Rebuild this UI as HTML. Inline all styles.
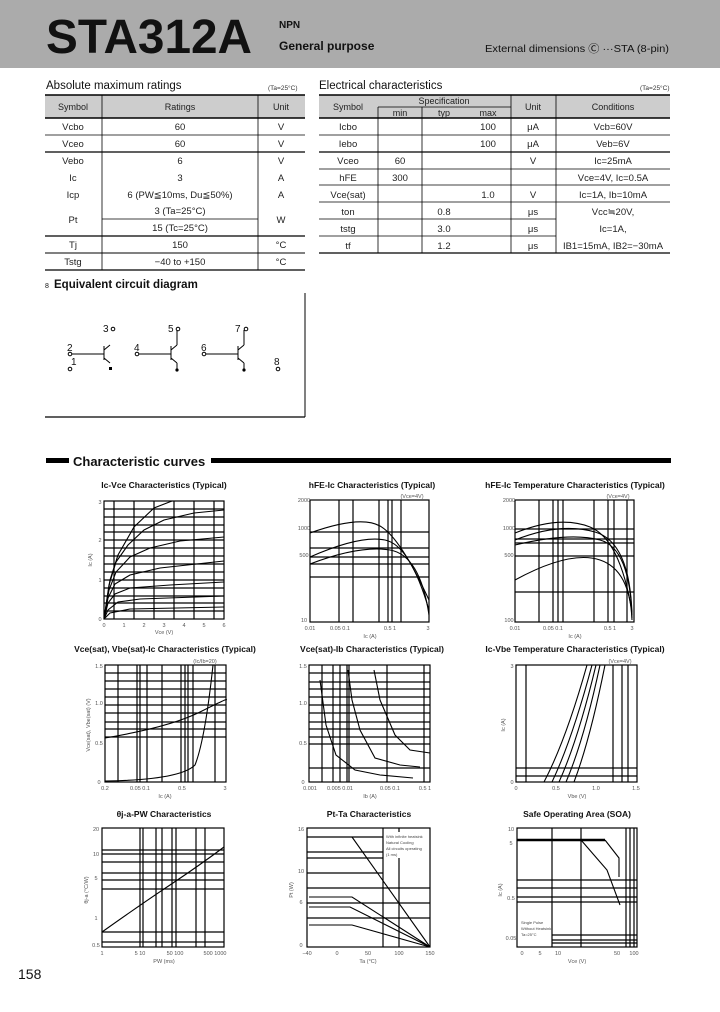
<!DOCTYPE html>
<html><head><meta charset="utf-8"><style>
html,body{margin:0;padding:0;background:#fff}
svg{display:block}
text{font-family:"Liberation Sans",Arial,sans-serif}
.t{font-size:9.5px;fill:#222}
.tk{font-size:5.5px;fill:#555}
.ct{font-size:8.5px;font-weight:bold;fill:#111}
.g{stroke:#000;stroke-width:1.2;fill:none}
.c{stroke:#000;stroke-width:1.1;fill:none}
</style></head><body>
<svg width="720" height="1012" viewBox="0 0 720 1012" xmlns="http://www.w3.org/2000/svg">
<rect x="0" y="0" width="720" height="68" fill="#ababab"/>
<text x="46" y="53" font-size="48" font-weight="bold" textLength="206" lengthAdjust="spacingAndGlyphs" fill="#111">STA312A</text>
<text x="279" y="28" font-size="10" font-weight="bold" fill="#111">NPN</text>
<text x="279" y="50" font-size="12" font-weight="bold" fill="#111">General purpose</text>
<text x="485" y="52" font-size="10.5" fill="#111" textLength="184" lengthAdjust="spacingAndGlyphs">External dimensions Ⓒ ···STA (8-pin)</text>

<!-- Left table -->
<text x="46" y="89" font-size="11.5" fill="#111">Absolute maximum ratings</text>
<text x="268" y="90" font-size="6.5" fill="#333">(Ta=25°C)</text>
<rect x="45" y="95" width="260" height="23" fill="#cdcdcd"/>
<g stroke="#000" fill="none">
<line x1="45" y1="95" x2="305" y2="95" stroke-width="1.5"/>
<line x1="45" y1="118" x2="305" y2="118" stroke-width="1.5"/>
<line x1="45" y1="135" x2="305" y2="135" stroke-width="0.8"/>
<line x1="45" y1="152" x2="305" y2="152" stroke-width="1.2"/>
<line x1="102" y1="219" x2="258" y2="219" stroke-width="0.8"/>
<line x1="45" y1="236" x2="305" y2="236" stroke-width="1.2"/>
<line x1="45" y1="253" x2="305" y2="253" stroke-width="1"/>
<line x1="45" y1="270" x2="305" y2="270" stroke-width="1.2"/>
<line x1="102" y1="95" x2="102" y2="270" stroke-width="0.8"/>
<line x1="258" y1="95" x2="258" y2="270" stroke-width="0.8"/>
</g>
<g class="t" text-anchor="middle">
<text x="73" y="110" font-size="9">Symbol</text><text x="180" y="110" font-size="9">Ratings</text><text x="281" y="110" font-size="9">Unit</text>
<text x="73" y="130">Vcbo</text><text x="180" y="130">60</text><text x="281" y="130">V</text>
<text x="73" y="147">Vceo</text><text x="180" y="147">60</text><text x="281" y="147">V</text>
<text x="73" y="164">Vebo</text><text x="180" y="164">6</text><text x="281" y="164">V</text>
<text x="73" y="181">Ic</text><text x="180" y="181">3</text><text x="281" y="181">A</text>
<text x="73" y="198">Icp</text><text x="180" y="198">6 (PW≦10ms, Du≦50%)</text><text x="281" y="198">A</text>
<text x="73" y="223">Pt</text><text x="180" y="214">3 (Ta=25°C)</text><text x="180" y="231">15 (Tc=25°C)</text><text x="281" y="223">W</text>
<text x="73" y="248">Tj</text><text x="180" y="248">150</text><text x="281" y="248">°C</text>
<text x="73" y="265">Tstg</text><text x="180" y="265">−40 to +150</text><text x="281" y="265">°C</text>
</g>

<!-- Right table -->
<text x="319" y="89" font-size="11.5" fill="#111">Electrical characteristics</text>
<text x="640" y="90" font-size="6.5" fill="#333">(Ta=25°C)</text>
<rect x="319" y="95" width="351" height="23" fill="#cdcdcd"/>
<g stroke="#000" fill="none">
<line x1="319" y1="95" x2="670" y2="95" stroke-width="1.5"/>
<line x1="319" y1="118" x2="670" y2="118" stroke-width="1.5"/>
<line x1="378" y1="107" x2="511" y2="107" stroke-width="0.8"/>
<line x1="319" y1="135" x2="670" y2="135" stroke-width="0.8"/>
<line x1="319" y1="152" x2="670" y2="152" stroke-width="1.2"/>
<line x1="319" y1="169" x2="670" y2="169" stroke-width="0.8"/>
<line x1="319" y1="185" x2="670" y2="185" stroke-width="0.8"/>
<line x1="319" y1="202" x2="670" y2="202" stroke-width="0.8"/>
<line x1="319" y1="219" x2="556" y2="219" stroke-width="0.8"/>
<line x1="319" y1="236" x2="556" y2="236" stroke-width="0.8"/>
<line x1="319" y1="253" x2="670" y2="253" stroke-width="1.2"/>
<line x1="378" y1="107" x2="378" y2="253" stroke-width="0.8"/>
<line x1="422" y1="107" x2="422" y2="253" stroke-width="0.8"/>
<line x1="511" y1="95" x2="511" y2="253" stroke-width="0.8"/>
<line x1="556" y1="95" x2="556" y2="253" stroke-width="0.8"/>
</g>
<g class="t" text-anchor="middle">
<text x="348" y="110" font-size="9">Symbol</text><text x="444" y="104" font-size="9">Specification</text>
<text x="400" y="116" font-size="9">min</text><text x="444" y="116" font-size="9">typ</text><text x="488" y="116" font-size="9">max</text>
<text x="533" y="110" font-size="9">Unit</text><text x="613" y="110" font-size="9">Conditions</text>
<text x="348" y="130">Icbo</text><text x="488" y="130">100</text><text x="533" y="130">μA</text><text x="613" y="130">Vcb=60V</text>
<text x="348" y="147">Iebo</text><text x="488" y="147">100</text><text x="533" y="147">μA</text><text x="613" y="147">Veb=6V</text>
<text x="348" y="164">Vceo</text><text x="400" y="164">60</text><text x="533" y="164">V</text><text x="613" y="164">Ic=25mA</text>
<text x="348" y="181">hFE</text><text x="400" y="181">300</text><text x="613" y="181">Vce=4V, Ic=0.5A</text>
<text x="348" y="198">Vce(sat)</text><text x="488" y="198">1.0</text><text x="533" y="198">V</text><text x="613" y="198">Ic=1A, Ib=10mA</text>
<text x="348" y="215">ton</text><text x="444" y="215">0.8</text><text x="533" y="215">μs</text><text x="613" y="215">Vcc≒20V,</text>
<text x="348" y="232">tstg</text><text x="444" y="232">3.0</text><text x="533" y="232">μs</text><text x="613" y="232">Ic=1A,</text>
<text x="348" y="249">tf</text><text x="444" y="249">1.2</text><text x="533" y="249">μs</text><text x="613" y="249">IB1=15mA, IB2=−30mA</text>
</g>

<!-- Equivalent circuit -->
<text x="45" y="288" font-size="7" fill="#111">8</text>
<text x="54" y="288" font-size="11.5" font-weight="bold" fill="#111">Equivalent circuit diagram</text>
<g stroke="#000" fill="none" stroke-width="1">
<line x1="305" y1="293" x2="305" y2="417"/>
<line x1="45" y1="417" x2="305" y2="417" stroke-width="1.3"/>
<line x1="72" y1="354" x2="104" y2="354"/><line x1="104" y1="346" x2="104" y2="360"/>
<line x1="104" y1="350" x2="110" y2="345"/><line x1="104" y1="358" x2="110" y2="363"/>
<line x1="139" y1="354" x2="171" y2="354"/><line x1="171" y1="346" x2="171" y2="360"/>
<line x1="171" y1="350" x2="177" y2="345"/><line x1="177" y1="345" x2="177" y2="330"/>
<line x1="171" y1="358" x2="177" y2="363"/><line x1="177" y1="363" x2="177" y2="370"/>
<line x1="206" y1="354" x2="238" y2="354"/><line x1="238" y1="346" x2="238" y2="360"/>
<line x1="238" y1="350" x2="244" y2="345"/><line x1="244" y1="345" x2="244" y2="330"/>
<line x1="238" y1="358" x2="244" y2="363"/><line x1="244" y1="363" x2="244" y2="370"/>
<circle cx="70" cy="354" r="1.8"/><circle cx="70" cy="369" r="1.8"/><circle cx="113" cy="329" r="1.8"/>
<circle cx="137" cy="354" r="1.8"/><circle cx="178" cy="329" r="1.8"/><circle cx="204" cy="354" r="1.8"/>
<circle cx="246" cy="329" r="1.8"/><circle cx="278" cy="369" r="1.8"/>
</g>
<rect x="109" y="367" width="3" height="3"/><circle cx="177" cy="370" r="1.6"/><circle cx="244" cy="370" r="1.6"/>
<g font-size="10" fill="#111"><text x="67" y="351">2</text><text x="71" y="365">1</text><text x="103" y="332">3</text>
<text x="134" y="351">4</text><text x="168" y="332">5</text><text x="201" y="351">6</text><text x="235" y="332">7</text><text x="274" y="365">8</text></g>

<!-- Characteristic curves header -->
<rect x="46" y="458" width="23" height="5" fill="#000"/>
<rect x="211" y="458" width="460" height="5" fill="#000"/>
<text x="73" y="466" font-size="13" font-weight="bold" fill="#111">Characteristic curves</text>

<!-- Titles -->
<g class="ct" text-anchor="middle">
<text x="164" y="488">Ic-Vce Characteristics (Typical)</text>
<text x="372" y="488">hFE-Ic Characteristics (Typical)</text>
<text x="575" y="488">hFE-Ic Temperature Characteristics (Typical)</text>
<text x="165" y="652">Vce(sat), Vbe(sat)-Ic Characteristics (Typical)</text>
<text x="372" y="652">Vce(sat)-Ib Characteristics (Typical)</text>
<text x="575" y="652">Ic-Vbe Temperature Characteristics (Typical)</text>
<text x="164" y="817">θj-a-PW Characteristics</text>
<text x="369" y="817">Pt-Ta Characteristics</text>
<text x="577" y="817">Safe Operating Area (SOA)</text>
</g>

<!-- Chart 1 -->
<g class="g">
<rect x="104" y="501" width="120" height="118"/>
<path d="M114 501V619M134 501V619M154 501V619M174 501V619M194 501V619M214 501V619"/>
<path d="M104 509H224M104 517H224M104 525H224M104 532H224M104 540H224M104 548H224M104 556H224M104 564H224M104 572H224M104 580H224M104 588H224M104 596H224M104 603H224M104 611H224"/>
</g>
<g class="c">
<path d="M104 619L110 580L118 555L134 527L154 508L172 501"/>
<path d="M104 619L109 585L116 562L128 545L144 530L164 520L194 513L224 510"/>
<path d="M104 619L109 590L116 572L130 557L150 548L180 541L224 537"/>
<path d="M104 619L108 598L115 584L130 575L160 568L224 561"/>
<path d="M104 619L108 603L115 594L130 588L170 585L224 582"/>
<path d="M104 619L108 610L118 602L140 599L224 596"/>
<path d="M104 619L110 613L130 609L224 607"/>
</g>
<g class="tk" text-anchor="middle"><text x="104" y="627">0</text><text x="124" y="627">1</text><text x="144" y="627">2</text><text x="164" y="627">3</text><text x="184" y="627">4</text><text x="204" y="627">5</text><text x="224" y="627">6</text><text x="164" y="634">Vce (V)</text>
<text x="100" y="621">0</text><text x="100" y="582">1</text><text x="100" y="542">2</text><text x="100" y="504">3</text><text x="92" y="560" transform="rotate(-90 92 560)">Ic (A)</text></g>

<!-- Chart 2 -->
<g class="g">
<rect x="310" y="500" width="119" height="122"/>
<path d="M339 500V622M353 500V622M379 500V622M388 500V622M392 500V622M401 500V622"/>
<path d="M310 532H429M310 548H429M310 557H429M310 564H429M310 577H429"/>
</g>
<g class="c">
<path d="M310 533Q360 515 380 526T429 600"/>
<path d="M310 557Q360 535 385 540T429 610"/>
<path d="M310 564Q360 545 390 550T429 615"/>
</g>
<g class="tk" text-anchor="middle"><text x="310" y="630">0.01</text><text x="340" y="630">0.05 0.1</text><text x="390" y="630">0.5 1</text><text x="428" y="630">3</text><text x="370" y="638">Ic (A)</text><text x="412" y="498">(Vce=4V)</text>
<text x="304" y="502">2000</text><text x="304" y="530">1000</text><text x="304" y="557">500</text><text x="304" y="622">10</text></g>

<!-- Chart 3 -->
<g class="g">
<rect x="515" y="500" width="119" height="122"/>
<path d="M539 500V622M553 500V622M558 500V622M563 500V622M594 500V622M608 500V622M614 500V622M627 500V622"/>
<path d="M515 529H634M515 539H634M515 543H634M515 556H634M515 592H634"/>
</g>
<g class="c">
<path d="M515 533Q560 515 590 527T632 612"/>
<path d="M515 540Q560 522 595 532T632 615"/>
<path d="M515 545Q570 532 600 540T632 618"/>
<path d="M515 580Q570 550 600 560T632 620"/>
</g>
<g class="tk" text-anchor="middle"><text x="515" y="630">0.01</text><text x="553" y="630">0.05 0.1</text><text x="610" y="630">0.5 1</text><text x="632" y="630">3</text><text x="575" y="638">Ic (A)</text><text x="618" y="498">(Vce=4V)</text>
<text x="509" y="502">2000</text><text x="509" y="530">1000</text><text x="509" y="557">500</text><text x="509" y="622">100</text></g>

<!-- Chart 4 -->
<g class="g">
<rect x="105" y="665" width="121" height="117"/>
<path d="M118 665V782M137 665V782M140 665V782M147 665V782M162 665V782M181 665V782M185 665V782M188 665V782M193 665V782M215 665V782"/>
<path d="M105 673H226M105 681H226M105 689H226M105 697H226M105 705H226M105 713H226M105 722H226M105 729H226M105 737H226"/>
</g>
<g class="c">
<path d="M105 738Q170 727 200 712T226 700"/>
<path d="M105 781Q180 780 195 765Q205 740 213 665"/>
</g>
<g class="tk" text-anchor="middle"><text x="105" y="790">0.2</text><text x="140" y="790">0.05 0.1</text><text x="182" y="790">0.5</text><text x="225" y="790">3</text><text x="165" y="798">Ic (A)</text><text x="205" y="663">(Ic/Ib=20)</text>
<text x="99" y="668">1.5</text><text x="99" y="705">1.0</text><text x="99" y="745">0.5</text><text x="99" y="784">0</text><text x="90" y="725" transform="rotate(-90 90 725)">Vce(sat), Vbe(sat) (V)</text></g>

<!-- Chart 5 -->
<g class="g">
<rect x="309" y="665" width="121" height="117"/>
<path d="M322 665V782M333 665V782M340 665V782M347 665V782M349 665V782M387 665V782M424 665V782"/>
<path d="M309 673H430M309 682H430M309 689H430M309 697H430M309 705H430M309 713H430M309 722H430M309 729H430M309 737H430M309 744H430M309 768H430"/>
</g>
<g class="c">
<path d="M320 680L326 725L336 755L355 770L380 775L413 778"/>
<path d="M348 670L352 700L360 730L375 758L400 765L420 767"/>
<path d="M374 670L380 700L395 735L410 750L430 753"/>
</g>
<g class="tk" text-anchor="middle"><text x="310" y="790">0.001</text><text x="340" y="790">0.005 0.01</text><text x="390" y="790">0.05 0.1</text><text x="425" y="790">0.5 1</text><text x="370" y="798">Ib (A)</text>
<text x="303" y="668">1.5</text><text x="303" y="705">1.0</text><text x="303" y="745">0.5</text><text x="303" y="784">0</text></g>

<!-- Chart 6 -->
<g class="g">
<rect x="516" y="665" width="121" height="117"/>
<path d="M526 665V782M613 665V782M622 665V782M628 665V782"/>
<path d="M516 768H637M516 776H637"/>
</g>
<g class="c">
<path d="M544 782Q566 740 587 665"/><path d="M552 782Q572 740 592 665"/><path d="M559 782Q578 740 596 665"/><path d="M566 782Q584 740 600 665"/><path d="M574 782Q590 740 605 665"/>
</g>
<g class="tk" text-anchor="middle"><text x="516" y="790">0</text><text x="556" y="790">0.5</text><text x="596" y="790">1.0</text><text x="636" y="790">1.5</text><text x="577" y="798">Vbe (V)</text><text x="620" y="663">(Vce=4V)</text>
<text x="512" y="668">3</text><text x="512" y="784">0</text><text x="505" y="725" transform="rotate(-90 505 725)">Ic (A)</text></g>

<!-- Chart 7 -->
<g class="g">
<rect x="102" y="828" width="122" height="119"/>
<path d="M140 828V947M143 828V947M156 828V947M162 828V947M172 828V947M176 828V947M196 828V947M205 828V947"/>
<path d="M102 850H224M102 854H224M102 862H224M102 873H224M102 880H224M102 889H224M102 932H224M102 942H224"/>
</g>
<path class="c" d="M102 932Q140 905 170 885T224 847"/>
<g class="tk" text-anchor="middle"><text x="102" y="955">1</text><text x="140" y="955">5 10</text><text x="175" y="955">50 100</text><text x="215" y="955">500 1000</text><text x="164" y="963">PW (ms)</text>
<text x="96" y="831">20</text><text x="96" y="856">10</text><text x="96" y="880">5</text><text x="96" y="920">1</text><text x="96" y="947">0.5</text><text x="88" y="890" transform="rotate(-90 88 890)">θj-a (°C/W)</text></g>

<!-- Chart 8 -->
<g class="g">
<rect x="307" y="828" width="123" height="119"/>
<path d="M383 828V947M399 828V947"/>
<path d="M307 837H383M307 852H383M307 858H383M307 873H383M307 888H430M307 903H430M307 918H430"/>
</g>
<rect x="384" y="832" width="45" height="26" fill="#fff"/>
<g class="c">
<path d="M352 837L430 947"/>
<path d="M309 897L352 897L430 947"/><path d="M309 907L350 907L430 947"/><path d="M309 925L352 925L430 947"/>
</g>
<g font-size="4" fill="#444"><text x="386" y="838">With infinite heatsink</text><text x="386" y="844">Natural Cooling</text><text x="386" y="850">All circuits operating</text><text x="386" y="856">(1 ms)</text></g>
<g class="tk" text-anchor="middle"><text x="307" y="955">−40</text><text x="337" y="955">0</text><text x="368" y="955">50</text><text x="399" y="955">100</text><text x="430" y="955">150</text><text x="368" y="963">Ta (°C)</text>
<text x="301" y="831">16</text><text x="301" y="873">10</text><text x="301" y="904">6</text><text x="301" y="947">0</text><text x="293" y="890" transform="rotate(-90 293 890)">Pt (W)</text></g>

<!-- Chart 9 -->
<g class="g">
<rect x="517" y="828" width="120" height="119"/>
<path d="M552 880V947M581 828V947M626 828V947M630 828V947M634 828V947"/>
<path d="M517 880H637M517 888H637M517 897H637M517 902H637M552 935H637M552 940H637M552 943H637M552 828V880"/>
</g>
<path d="M517 840H605" stroke="#000" stroke-width="2.5"/>
<g class="c"><path d="M605 840L619 858L619 877"/><path d="M581 840L607 870L620 905"/></g>
<g font-size="4" fill="#444"><text x="521" y="924">Single Pulse</text><text x="521" y="930">Without Heatsink</text><text x="521" y="936">Ta=25°C</text></g>
<g class="tk" text-anchor="middle"><text x="522" y="955">0</text><text x="540" y="955">5</text><text x="558" y="955">10</text><text x="617" y="955">50</text><text x="634" y="955">100</text><text x="577" y="963">Vce (V)</text>
<text x="511" y="831">10</text><text x="511" y="845">5</text><text x="511" y="900">0.5</text><text x="511" y="940">0.05</text><text x="502" y="890" transform="rotate(-90 502 890)">Ic (A)</text></g>

<text x="18" y="979" font-size="14" fill="#111">158</text>
</svg>
</body></html>
